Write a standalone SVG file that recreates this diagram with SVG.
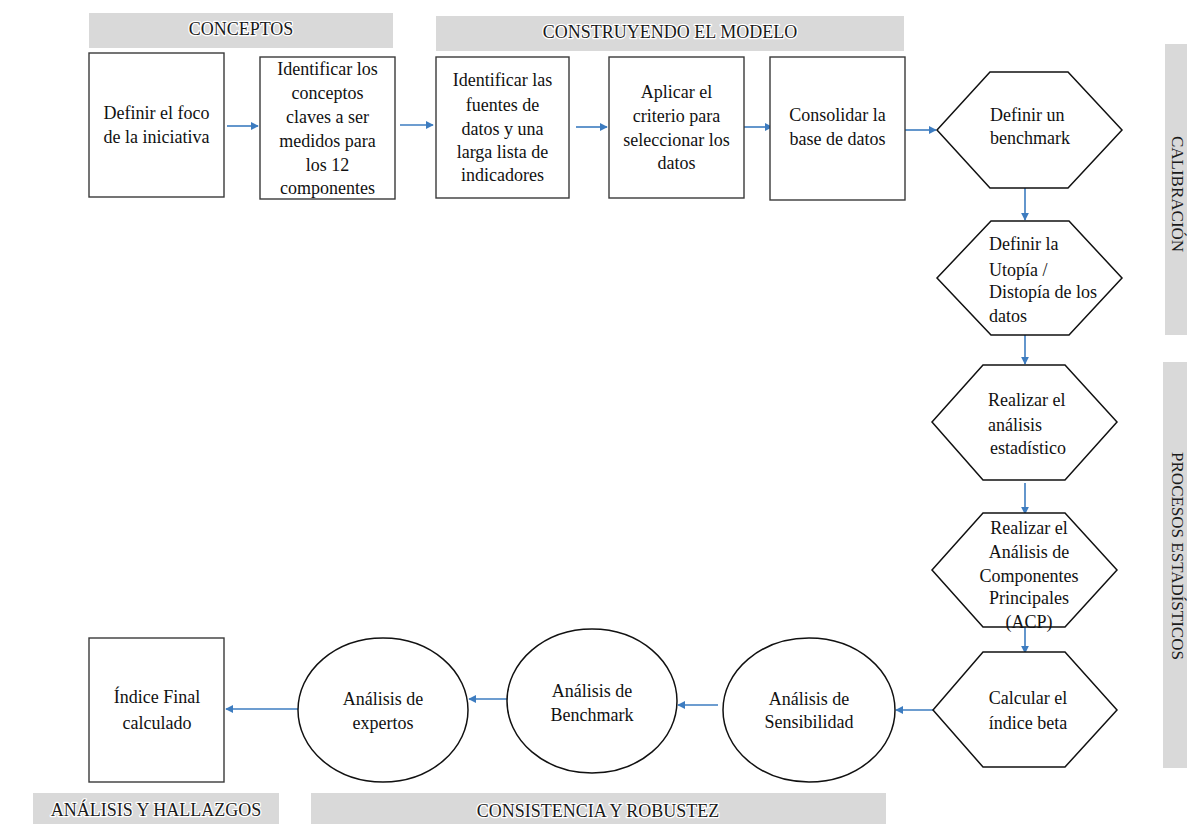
<svg xmlns="http://www.w3.org/2000/svg" width="1187" height="824" viewBox="0 0 1187 824">
<style>
  .bg { fill: #ffffff; }
  .banner { fill: #d9d9d9; stroke: none; }
  .btxt { font-family: "Liberation Serif", "Times New Roman", serif; font-size: 18px; fill: #1a1a1a; text-anchor: middle; stroke: #ffffff; stroke-width: 2.5px; paint-order: stroke; stroke-linejoin: round; }
  .vtxt { font-family: "Liberation Serif", "Times New Roman", serif; font-size: 17px; fill: #1a1a1a; text-anchor: middle; }
  .box { fill: #ffffff; stroke: #3a3a3a; stroke-width: 1.4; }
  .shape { fill: #ffffff; stroke: #111111; stroke-width: 1.5; }
  .t { font-family: "Liberation Serif", "Times New Roman", serif; font-size: 18px; fill: #111111; text-anchor: middle; }
  .tl { font-family: "Liberation Serif", "Times New Roman", serif; font-size: 18px; fill: #111111; text-anchor: start; }
  .conn { stroke: #3d7cc0; stroke-width: 1.6; fill: none; marker-end: url(#arr); }
</style>
<defs>
  <marker id="arr" viewBox="0 0 10 10" refX="9" refY="5" markerWidth="5" markerHeight="5" orient="auto" markerUnits="strokeWidth">
    <path d="M0,0 L10,5 L0,10 z" fill="#3d7cc0"/>
  </marker>
</defs>
<rect class="bg" x="0" y="0" width="1187" height="824"/>

<g id="banners">
  <g id="banner-conceptos">
    <rect class="banner" x="89" y="13" width="304" height="35"/>
    <text class="btxt" x="241" y="35">CONCEPTOS</text>
  </g>
  <g id="banner-modelo">
    <rect class="banner" x="436" y="16" width="468" height="35"/>
    <text class="btxt" x="670" y="38">CONSTRUYENDO EL MODELO</text>
  </g>
  <g id="banner-calibracion">
    <rect class="banner" x="1165" y="44" width="24" height="291"/>
    <text class="vtxt" transform="translate(1172,194) rotate(90)" x="0" y="0">CALIBRACIÓN</text>
  </g>
  <g id="banner-procesos">
    <rect class="banner" x="1163" y="362" width="26" height="406"/>
    <text class="vtxt" transform="translate(1172,556) rotate(90)" x="0" y="0">PROCESOS ESTADÍSTICOS</text>
  </g>
  <g id="banner-analisis">
    <rect class="banner" x="33" y="793" width="246" height="35"/>
    <text class="btxt" x="156" y="816">ANÁLISIS Y HALLAZGOS</text>
  </g>
  <g id="banner-consistencia">
    <rect class="banner" x="311" y="793" width="575" height="35"/>
    <text class="btxt" x="598" y="817">CONSISTENCIA Y ROBUSTEZ</text>
  </g>
</g>

<g id="connectors">
  <line class="conn" x1="227" y1="126" x2="258" y2="126"/>
  <line class="conn" x1="400" y1="125" x2="433" y2="125"/>
  <line class="conn" x1="576" y1="127" x2="607" y2="127"/>
  <line class="conn" x1="744" y1="127" x2="772" y2="127"/>
  <line class="conn" x1="905" y1="130" x2="936" y2="130"/>
  <line class="conn" x1="1025" y1="188" x2="1025" y2="220"/>
  <line class="conn" x1="1025" y1="335" x2="1025" y2="364"/>
  <line class="conn" x1="1025" y1="483" x2="1025" y2="514"/>
  <line class="conn" x1="1025" y1="627" x2="1025" y2="653"/>
  <line class="conn" x1="933" y1="710" x2="896" y2="710"/>
  <line class="conn" x1="718" y1="705" x2="678" y2="705"/>
  <line class="conn" x1="508" y1="699" x2="469" y2="699"/>
  <line class="conn" x1="298" y1="709" x2="226" y2="709"/>
</g>

<g id="node-definir-foco">
  <rect class="box" x="89" y="53" width="135" height="144"/>
  <text class="t" x="156.5" y="119">Definir el foco</text>
  <text class="t" x="156.5" y="143">de la iniciativa</text>
</g>
<g id="node-identificar-conceptos">
  <rect class="box" x="260" y="57" width="135" height="142"/>
  <text class="t" x="327.5" y="75">Identificar los</text>
  <text class="t" x="327.5" y="99">conceptos</text>
  <text class="t" x="327.5" y="123">claves a ser</text>
  <text class="t" x="327.5" y="147">medidos para</text>
  <text class="t" x="327.5" y="171">los 12</text>
  <text class="t" x="327.5" y="194">componentes</text>
</g>
<g id="node-identificar-fuentes">
  <rect class="box" x="436" y="57" width="133" height="141"/>
  <text class="t" x="502.5" y="86">Identificar las</text>
  <text class="t" x="502.5" y="111">fuentes de</text>
  <text class="t" x="502.5" y="135">datos y una</text>
  <text class="t" x="502.5" y="158">larga lista de</text>
  <text class="t" x="502.5" y="181">indicadores</text>
</g>
<g id="node-aplicar-criterio">
  <rect class="box" x="609" y="57" width="135" height="141"/>
  <text class="t" x="676.5" y="98">Aplicar el</text>
  <text class="t" x="676.5" y="122">criterio para</text>
  <text class="t" x="676.5" y="146">seleccionar los</text>
  <text class="t" x="676.5" y="169">datos</text>
</g>
<g id="node-consolidar">
  <rect class="box" x="770" y="57" width="135" height="143"/>
  <text class="t" x="837.5" y="121">Consolidar la</text>
  <text class="t" x="837.5" y="145">base de datos</text>
</g>

<g id="node-benchmark">
  <polygon class="shape" points="990,72 1068,72 1122,130 1068,188 990,188 937,130"/>
  <text class="tl" x="990" y="121">Definir un</text>
  <text class="tl" x="990" y="144">benchmark</text>
</g>
<g id="node-utopia">
  <polygon class="shape" points="991,221 1069,221 1122,278 1069,335 991,335 937,278"/>
  <text class="tl" x="989" y="250">Definir la</text>
  <text class="tl" x="989" y="276">Utopía /</text>
  <text class="tl" x="989" y="298">Distopía de los</text>
  <text class="tl" x="989" y="322">datos</text>
</g>
<g id="node-analisis-estadistico">
  <polygon class="shape" points="983,365 1065,365 1117,422 1065,480 983,480 932,422"/>
  <text class="tl" x="988" y="406">Realizar el</text>
  <text class="tl" x="988" y="431">análisis</text>
  <text class="tl" x="990" y="454">estadístico</text>
</g>
<g id="node-acp">
  <polygon class="shape" points="983,513 1065,513 1117,570 1065,627 983,627 932,570"/>
  <text class="t" x="1029" y="534">Realizar el</text>
  <text class="t" x="1029" y="558">Análisis de</text>
  <text class="t" x="1029" y="582">Componentes</text>
  <text class="t" x="1029" y="604">Principales</text>
  <text class="t" x="1029" y="628">(ACP)</text>
</g>
<g id="node-indice-beta">
  <polygon class="shape" points="983,652 1065,652 1117,710 1065,767 983,767 933,710"/>
  <text class="t" x="1028" y="704">Calcular el</text>
  <text class="t" x="1028" y="729">índice beta</text>
</g>

<g id="node-sensibilidad">
  <ellipse class="shape" cx="809" cy="710" rx="86" ry="72"/>
  <text class="t" x="809" y="705">Análisis de</text>
  <text class="t" x="809" y="728">Sensibilidad</text>
</g>
<g id="node-analisis-benchmark">
  <ellipse class="shape" cx="592" cy="701" rx="85" ry="72"/>
  <text class="t" x="592" y="697">Análisis de</text>
  <text class="t" x="592" y="721">Benchmark</text>
</g>
<g id="node-expertos">
  <ellipse class="shape" cx="383" cy="710" rx="85" ry="72"/>
  <text class="t" x="383" y="705">Análisis de</text>
  <text class="t" x="383" y="729">expertos</text>
</g>
<g id="node-indice-final">
  <rect class="box" x="89" y="638" width="135" height="144"/>
  <text class="t" x="157" y="703">Índice Final</text>
  <text class="t" x="157" y="729">calculado</text>
</g>
</svg>
